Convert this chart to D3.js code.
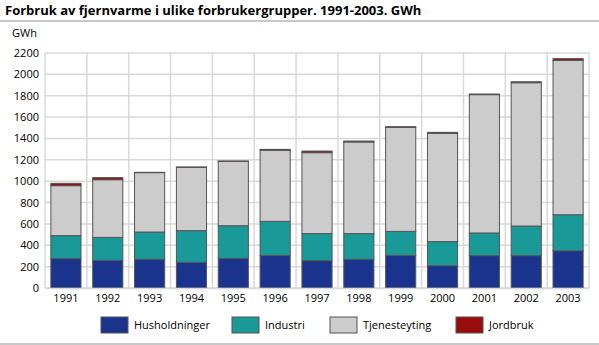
<!DOCTYPE html>
<html>
<head>
<meta charset="utf-8">
<script src="https://cdn.jsdelivr.net/npm/d3@7"></script>
<style>
  html, body { margin: 0; padding: 0; background: #fff; }
  svg { display: block; font-family: "Open Sans", "Noto Sans", sans-serif; }
</style>
</head>
<body>
<svg id="chart" width="599" height="345"></svg>
<script>
// District heating consumption by consumer group, GWh
const years = ["1991","1992","1993","1994","1995","1996","1997","1998","1999","2000","2001","2002","2003"];
const husholdninger = [275, 259, 268, 240, 277, 305, 256, 268, 305, 209, 303, 303, 349];
const industri      = [215, 215, 256, 297, 306, 319, 253, 241, 225, 225, 212, 277, 337];
const tjenesteyting = [468, 540, 556, 593, 603, 665, 758, 858, 974, 1014, 1295, 1342, 1445];
const jordbruk      = [22, 19, 3, 3, 3, 9, 15, 9, 6, 9, 6, 9, 16];
const seriesNames = ["Husholdninger", "Industri", "Tjenesteyting", "Jordbruk"];
const seriesColors = ["#1a338c", "#1a9999", "#cccccc", "#990c0c"];
const yTicks = [0, 200, 400, 600, 800, 1000, 1200, 1400, 1600, 1800, 2000, 2200];

const svg = d3.select("#chart");
const W = 599;

// Title and frame rules
svg.append("text").attr("x", 5).attr("y", 15)
  .attr("font-size", 13).attr("font-weight", "bold").attr("fill", "#000")
  .text("Forbruk av fjernvarme i ulike forbrukergrupper. 1991-2003. GWh");
svg.append("rect").attr("x", 0).attr("y", 20).attr("width", W).attr("height", 2).attr("fill", "#c8c8c8");
svg.append("rect").attr("x", 0).attr("y", 343).attr("width", W).attr("height", 2).attr("fill", "#c8c8c8");

const plot = { left: 45, right: 589, top: 53, bottom: 288 };

const x = d3.scaleBand().domain(years).range([plot.left, plot.right])
  .paddingInner(0.28).paddingOuter(0.14);
const y = d3.scaleLinear().domain([0, 2200]).range([plot.bottom, plot.top]);

// Grid
const grid = svg.append("g").attr("stroke", "#d9d9d9").attr("stroke-width", 1.5);
grid.selectAll("line.h").data(yTicks).join("line")
  .attr("x1", plot.left).attr("x2", plot.right)
  .attr("y1", d => y(d)).attr("y2", d => y(d));
const step = x.step();
const vlines = d3.range(years.length + 1).map(i => plot.left + i * step);
grid.selectAll("line.v").data(vlines).join("line")
  .attr("x1", d => d).attr("x2", d => d)
  .attr("y1", plot.top).attr("y2", plot.bottom);

// Stacked bars
const table = years.map((yr, i) => ({
  year: yr,
  Husholdninger: husholdninger[i],
  Industri: industri[i],
  Tjenesteyting: tjenesteyting[i],
  Jordbruk: jordbruk[i]
}));
const stacked = d3.stack().keys(seriesNames)(table);
svg.append("g").selectAll("g").data(stacked).join("g")
  .attr("fill", (d, i) => seriesColors[i])
  .selectAll("rect").data(d => d).join("rect")
  .attr("x", d => x(d.data.year))
  .attr("width", x.bandwidth())
  .attr("y", d => y(d[1]))
  .attr("height", d => y(d[0]) - y(d[1]))
  .attr("stroke", "#555")
  .attr("stroke-width", 1);

// Axes
const yAxis = d3.axisLeft(y).tickValues(yTicks).tickFormat(d3.format("d")).tickSize(0).tickPadding(6);
const gy = svg.append("g").attr("transform", `translate(${plot.left},0)`).call(yAxis);
gy.select(".domain").remove();
gy.selectAll("text").attr("font-size", 11).attr("fill", "#000")
  .attr("font-family", "'Open Sans', 'Noto Sans', sans-serif");

const xAxis = d3.axisBottom(x).tickSize(0).tickPadding(6);
const gx = svg.append("g").attr("transform", `translate(0,${plot.bottom})`).call(xAxis);
gx.select(".domain").attr("stroke", "#d9d9d9").attr("stroke-width", 1.5);
gx.selectAll("text").attr("font-size", 11).attr("fill", "#000")
  .attr("font-family", "'Open Sans', 'Noto Sans', sans-serif");

svg.append("text").attr("x", 12).attr("y", 37).attr("font-size", 11).attr("fill", "#000").text("GWh");

// Legend
const legendX = [101, 232, 330, 456];
const lg = svg.append("g").selectAll("g").data(seriesNames).join("g")
  .attr("transform", (d, i) => `translate(${legendX[i]},317)`);
lg.append("rect").attr("width", 27).attr("height", 16)
  .attr("fill", (d, i) => seriesColors[i]).attr("stroke", "#555").attr("stroke-width", 1);
lg.append("text").attr("x", 33).attr("y", 12).attr("font-size", 11).attr("fill", "#000").text(d => d);
</script>
</body>
</html>
